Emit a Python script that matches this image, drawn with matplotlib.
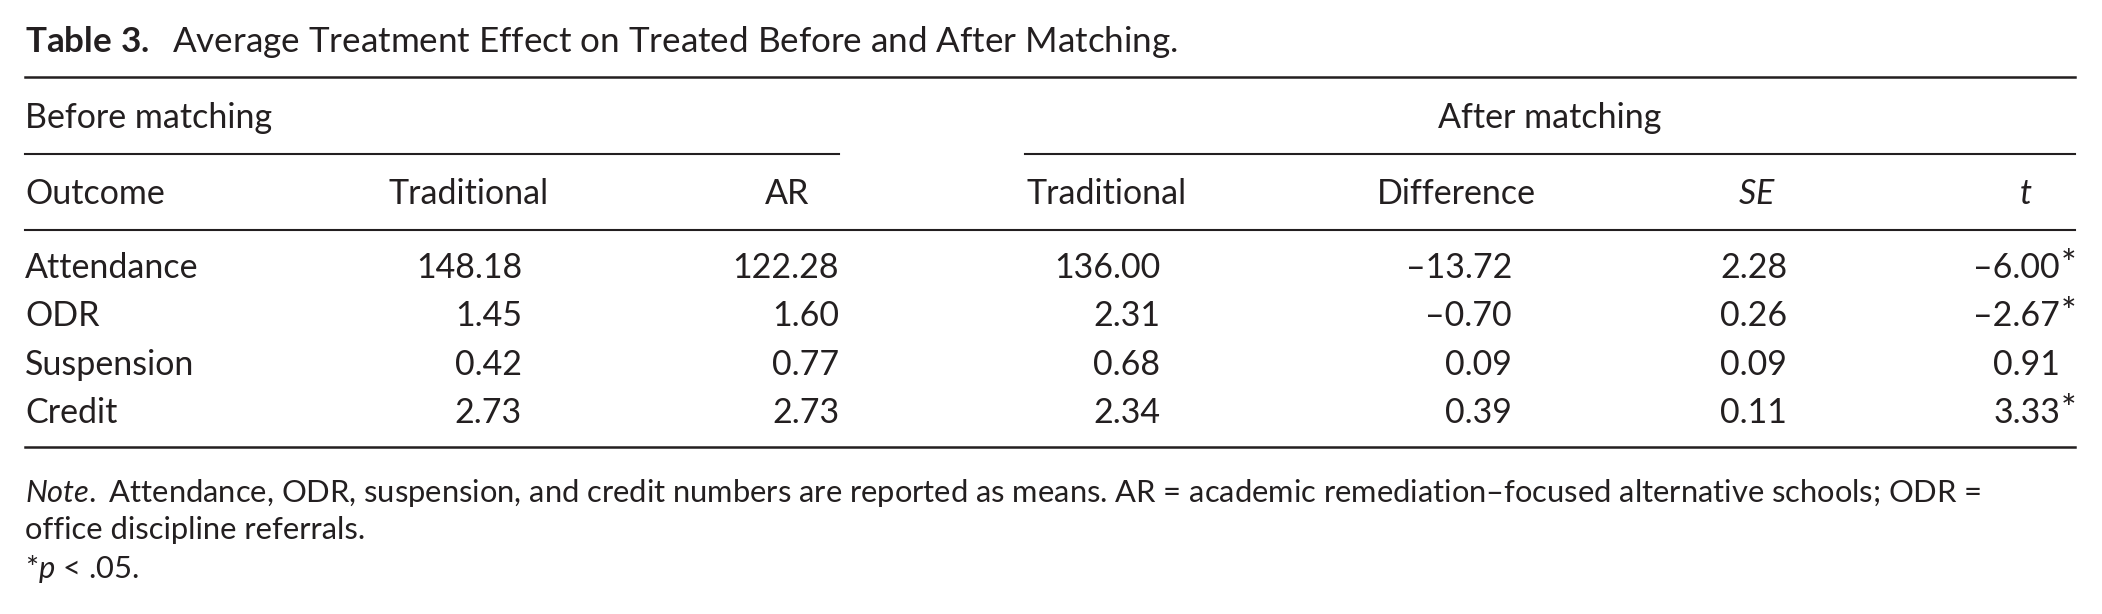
import matplotlib
matplotlib.use("Agg")
import matplotlib.pyplot as plt

plt.rcParams["font.family"] = ["Lato", "DejaVu Sans"]
plt.rcParams["mathtext.fontset"] = "custom"
plt.rcParams["mathtext.rm"] = "Lato"
plt.rcParams["mathtext.it"] = "Lato:italic"
plt.rcParams["mathtext.bf"] = "Lato:bold"

# table contents
outcomes = ["Attendance", "ODR", "Suspension", "Credit"]
before_traditional = [148.18, 1.45, 0.42, 2.73]
before_ar = [122.28, 1.60, 0.77, 2.73]
after_traditional = [136.00, 2.31, 0.68, 2.34]
difference = [-13.72, -0.70, 0.09, 0.39]
std_err = [2.28, 0.26, 0.09, 0.11]
t_stat = [-6.00, -2.67, 0.91, 3.33]
significant = [True, True, False, True]

col_headers = ["Traditional", "AR", "Traditional", "Difference", r"$\mathit{SE}$", r"$\mathit{t}$"]
title = r"$\mathbf{Table\ 3.}$  Average Treatment Effect on Treated Before and After Matching."
note_lines = [
    r"$\mathit{Note.}$ Attendance, ODR, suspension, and credit numbers are reported as means. "
    "AR = academic remediation\u2013focused alternative schools; ODR =",
    "office discipline referrals.",
    r"*$\mathit{p}$ < .05.",
]

INK = "#231f20"
FS = 24.5
NOTE_FS = 22.2


def fmt(v):
    return f"{v:.2f}".replace("-", "\u2013")


fig = plt.figure(figsize=(21.02, 6.14), dpi=100)
ax = fig.add_axes([0, 0, 1, 1])
ax.set_xlim(0, 2102)
ax.set_ylim(614, 0)
ax.axis("off")

left, right = 25, 2075
head_cx = [469, 787, 1107, 1456, 1757, 2026]
val_rx = [522, 839, 1160, 1512, 1787, 2060]

ax.text(left, 52, title, fontsize=25.2, color=INK, va="baseline")

ax.plot([left, right], [77, 77], color=INK, lw=1.8)
ax.text(left, 128, "Before matching", fontsize=FS, color=INK, va="baseline")
ax.text((1025 + right) / 2, 128, "After matching", fontsize=FS, color=INK,
        va="baseline", ha="center")
ax.plot([left, 839], [154, 154], color=INK, lw=1.5)
ax.plot([1025, right], [154, 154], color=INK, lw=1.5)

ax.text(left, 204, "Outcome", fontsize=FS, color=INK, va="baseline")
for cx, h in zip(head_cx, col_headers):
    ax.text(cx, 204, h, fontsize=FS, color=INK, va="baseline", ha="center")
ax.plot([left, right], [230, 230], color=INK, lw=1.5)

columns = [before_traditional, before_ar, after_traditional, difference, std_err, t_stat]
for i, name in enumerate(outcomes):
    y = 278 + i * 48.3
    ax.text(left, y, name, fontsize=FS, color=INK, va="baseline")
    for rx, col in zip(val_rx, columns):
        ax.text(rx, y, fmt(col[i]), fontsize=FS, color=INK, va="baseline", ha="right")
    if significant[i]:
        ax.text(val_rx[-1] + 1, y - 2, "*", fontsize=FS + 2, color=INK, va="baseline", ha="left")

ax.plot([left, right], [447, 447], color=INK, lw=1.8)

for y, line in zip([502, 539, 578], note_lines):
    ax.text(left, y, line, fontsize=NOTE_FS, color=INK, va="baseline")

fig.savefig("out.png", dpi=100, facecolor="white")
